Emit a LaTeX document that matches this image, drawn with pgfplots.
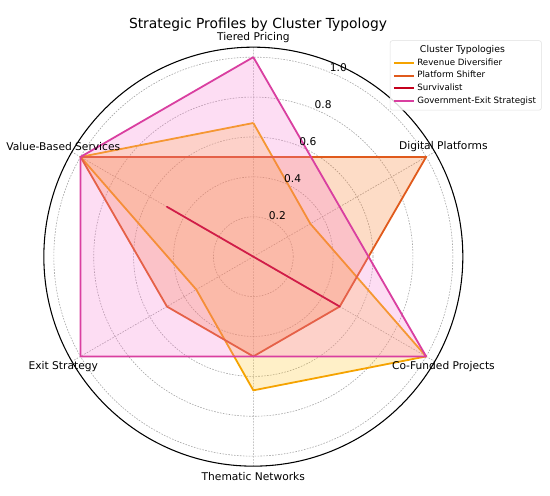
\documentclass[border=0pt]{standalone}
\usepackage{pgfplots}
\pgfplotsset{compat=1.18}
\usepgfplotslibrary{polar}
\usepackage{fontspec}
\setmainfont{DejaVu Sans}
\definecolor{cRD}{HTML}{F5A300}
\definecolor{cPS}{HTML}{E05A1C}
\definecolor{cSV}{HTML}{C4001C}
\definecolor{cGE}{HTML}{D93FA0}
\definecolor{fRD}{HTML}{FFC323}
\definecolor{fPS}{HTML}{F7731B}
\definecolor{fSV}{HTML}{DC2832}
\definecolor{fGE}{HTML}{F777CF}
\begin{document}
\begin{tikzpicture}
\begin{polaraxis}[
  scale only axis, width=314.25pt, height=314.25pt,
  xmin=0, xmax=360, ymin=0, ymax=1.05,
  xtick={30,90,150,210,270,330}, xticklabels={},
  ytick={0.2,0.4,0.6,0.8,1.0}, yticklabels={},
  grid=major,
  major grid style={dash pattern=on 1.2pt off 1pt, gray!70, line width=0.45pt},
  separate axis lines,
  x axis line style={black, line width=0.8pt},
  y axis line style={draw=none},
  major tick length=0pt,
  clip=false,
  legend cell align=left,
  legend style={at={(axis description cs:0.826,1.016)}, anchor=north west,
    font=\fontsize{6.5}{7.5}\selectfont, draw=gray!25, rounded corners=1.5pt,
    fill=white, fill opacity=0.85, text opacity=1,
    inner xsep=2pt, inner ysep=1.5pt, row sep=-0.9pt},
  legend image code/.code={\draw[#1] (0pt,0pt) -- (15pt,0pt);},
  every axis plot/.append style={line width=1.35pt, line join=round},
]
\addlegendimage{empty legend}
\addlegendentry{\hspace*{2pt}\fontsize{7}{8}\selectfont Cluster Typologies}
\addlegendimage{draw=cRD, line width=1.35pt}
\addlegendentry{Revenue Diversifier}
\addlegendimage{draw=cPS, line width=1.35pt}
\addlegendentry{Platform Shifter}
\addlegendimage{draw=cSV, line width=1.35pt}
\addlegendentry{Survivalist}
\addlegendimage{draw=cGE, line width=1.35pt}
\addlegendentry{Government-Exit Strategist}

\addplot[forget plot, draw=cRD, fill=fRD, fill opacity=0.25] coordinates {
  (90,0.67) (30,0.33) (330,1.0) (270,0.67) (210,0.33) (150,1.0) (90,0.67)};

\addplot[forget plot, draw=cPS, fill=fPS, fill opacity=0.25] coordinates {
  (90,0.5) (30,1.0) (330,0.5) (270,0.5) (210,0.5) (150,1.0) (90,0.5)};

\addplot[forget plot, draw=cSV, fill=fSV, fill opacity=0.25] coordinates {
  (90,0) (30,0) (330,0.5) (270,0) (210,0) (150,0.5) (90,0)};

\addplot[forget plot, draw=cGE, fill=fGE, fill opacity=0.25] coordinates {
  (90,1.0) (30,0.5) (330,1.0) (270,0.5) (210,1.0) (150,1.0) (90,1.0)};

\coordinate (C) at (axis cs:0,0);
\begin{scope}[font=\fontsize{8}{9.6}\selectfont]
\node at (axis cs:90,1.098) {Tiered Pricing};
\node at (axis cs:30,1.10) {Digital Platforms};
\node at (axis cs:330,1.10) {Co-Funded Projects};
\node at (axis cs:270,1.10) {Thematic Networks};
\node at (axis cs:210,1.10) {Exit Strategy};
\node at (axis cs:150,1.10) {Value-Based Services};
\node[anchor=south west, inner sep=0pt] at (axis cs:67.5,0.2) {0.2};
\node[anchor=south west, inner sep=0pt] at (axis cs:67.5,0.4) {0.4};
\node[anchor=south west, inner sep=0pt] at (axis cs:67.5,0.6) {0.6};
\node[anchor=south west, inner sep=0pt] at (axis cs:67.5,0.8) {0.8};
\node[anchor=south west, inner sep=0pt] at (axis cs:67.5,1.0) {1.0};
\end{scope}
\node[font=\fontsize{10.4}{12}\selectfont] at (axis cs:88.84,1.161) {Strategic Profiles by Cluster Typology};
\end{polaraxis}
\pgfresetboundingbox
\path[use as bounding box] ([shift={(-190pt,192.5pt)}]C) rectangle ([shift={(222.5pt,-179.5pt)}]C);
\end{tikzpicture}
\end{document}
